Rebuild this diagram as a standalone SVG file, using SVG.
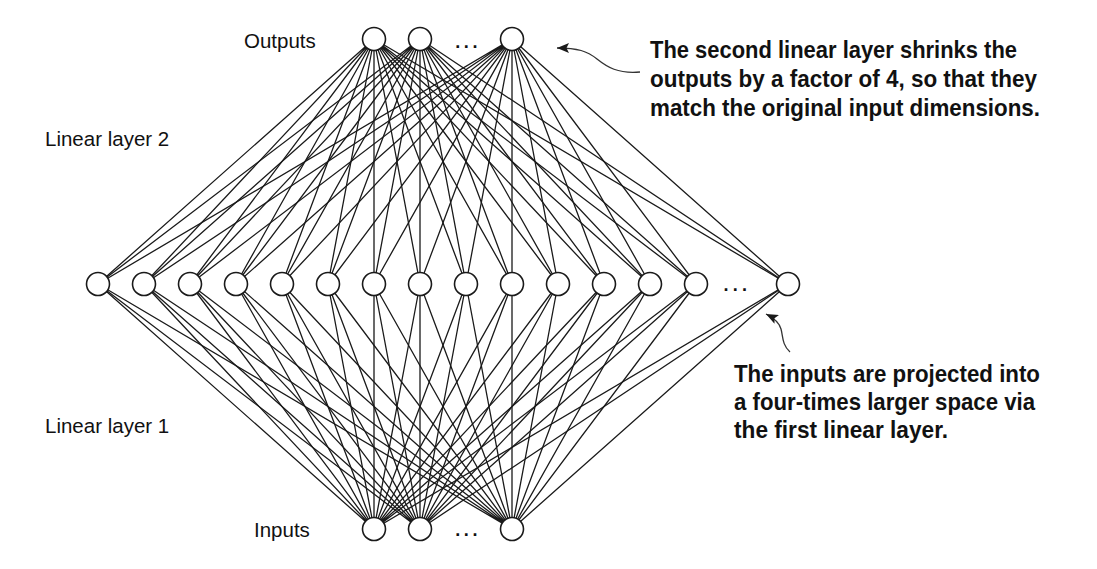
<svg xmlns="http://www.w3.org/2000/svg" width="1097" height="569" viewBox="0 0 1097 569">
<style>
.lbl{font-family:"Liberation Sans",Arial,sans-serif;font-size:20.5px;fill:#111}
.note{font-family:"Liberation Sans",Arial,sans-serif;font-size:24px;font-weight:bold;fill:#111}
.dots{font-family:"Liberation Sans",Arial,sans-serif;font-size:18px;font-weight:bold;fill:#111;letter-spacing:3.6px}
.conn{fill:none;stroke:#1a1a1a;stroke-width:1.3}
.node circle{fill:#fff;stroke:#1a1a1a;stroke-width:1.6}
.arrow{fill:none;stroke:#333;stroke-width:1.3}
</style>
<defs>
<marker id="ah" viewBox="0 0 12 10" refX="12" refY="5" markerWidth="12" markerHeight="10" markerUnits="userSpaceOnUse" orient="auto">
<path d="M0,0 L12,5 L0,10 L2.5,5 Z" fill="#1a1a1a"/>
</marker>
</defs>
<rect width="1097" height="569" fill="#fff"/>
<g id="connectors">
<path class="conn" d="M374 39L98 284M374 39L144 284M374 39L190 284M374 39L236 284M374 39L282 284M374 39L328 284M374 39L374 284M374 39L420 284M374 39L466 284M374 39L512 284M374 39L558 284M374 39L604 284M374 39L650 284M374 39L696 284M374 39L788 284"/>
<path class="conn" d="M420 39L98 284M420 39L144 284M420 39L190 284M420 39L236 284M420 39L282 284M420 39L328 284M420 39L374 284M420 39L420 284M420 39L466 284M420 39L512 284M420 39L558 284M420 39L604 284M420 39L650 284M420 39L696 284M420 39L788 284"/>
<path class="conn" d="M512 39L98 284M512 39L144 284M512 39L190 284M512 39L236 284M512 39L282 284M512 39L328 284M512 39L374 284M512 39L420 284M512 39L466 284M512 39L512 284M512 39L558 284M512 39L604 284M512 39L650 284M512 39L696 284M512 39L788 284"/>
<path class="conn" d="M374 529L98 284M374 529L144 284M374 529L190 284M374 529L236 284M374 529L282 284M374 529L328 284M374 529L374 284M374 529L420 284M374 529L466 284M374 529L512 284M374 529L558 284M374 529L604 284M374 529L650 284M374 529L696 284M374 529L788 284"/>
<path class="conn" d="M420 529L98 284M420 529L144 284M420 529L190 284M420 529L236 284M420 529L282 284M420 529L328 284M420 529L374 284M420 529L420 284M420 529L466 284M420 529L512 284M420 529L558 284M420 529L604 284M420 529L650 284M420 529L696 284M420 529L788 284"/>
<path class="conn" d="M512 529L98 284M512 529L144 284M512 529L190 284M512 529L236 284M512 529L282 284M512 529L328 284M512 529L374 284M512 529L420 284M512 529L466 284M512 529L512 284M512 529L558 284M512 529L604 284M512 529L650 284M512 529L696 284M512 529L788 284"/>
</g>
<g id="outputs" class="node">
<circle cx="374" cy="39" r="11.5"/><circle cx="420" cy="39" r="11.5"/><circle cx="512" cy="39" r="11.5"/>
<text class="dots" x="455.2" y="47.5">...</text>
</g>
<g id="hidden" class="node">
<circle cx="98" cy="284" r="11.5"/><circle cx="144" cy="284" r="11.5"/><circle cx="190" cy="284" r="11.5"/><circle cx="236" cy="284" r="11.5"/><circle cx="282" cy="284" r="11.5"/><circle cx="328" cy="284" r="11.5"/><circle cx="374" cy="284" r="11.5"/><circle cx="420" cy="284" r="11.5"/><circle cx="466" cy="284" r="11.5"/><circle cx="512" cy="284" r="11.5"/><circle cx="558" cy="284" r="11.5"/><circle cx="604" cy="284" r="11.5"/><circle cx="650" cy="284" r="11.5"/><circle cx="696" cy="284" r="11.5"/><circle cx="788" cy="284" r="11.5"/>
<text class="dots" x="723.5" y="291" style="letter-spacing:4.3px">...</text>
</g>
<g id="inputs" class="node">
<circle cx="374" cy="529" r="11.5"/><circle cx="420" cy="529" r="11.5"/><circle cx="512" cy="529" r="11.5"/>
<text class="dots" x="455.2" y="535.5">...</text>
</g>
<g id="labels">
<text class="lbl" x="244" y="47.5">Outputs</text>
<text class="lbl" x="45" y="146">Linear layer 2</text>
<text class="lbl" x="45" y="432.5">Linear layer 1</text>
<text class="lbl" x="254" y="536.5">Inputs</text>
</g>
<g id="note-top">
<path class="arrow" d="M640 72C618 74 607 67 597 59C587 51 578 48 557 48" marker-end="url(#ah)"/>
<text class="note" x="650" y="58" textLength="367" lengthAdjust="spacingAndGlyphs">The second linear layer shrinks the</text>
<text class="note" x="650" y="87" textLength="387" lengthAdjust="spacingAndGlyphs">outputs by a factor of 4, so that they</text>
<text class="note" x="650" y="115.5" textLength="390" lengthAdjust="spacingAndGlyphs">match the original input dimensions.</text>
</g>
<g id="note-bottom">
<path class="arrow" d="M790 352C782 345 783 336 781 329C779 322 774 318 766 314" marker-end="url(#ah)"/>
<text class="note" x="734" y="381.5" textLength="306" lengthAdjust="spacingAndGlyphs">The inputs are projected into</text>
<text class="note" x="734" y="410" textLength="301" lengthAdjust="spacingAndGlyphs">a four-times larger space via</text>
<text class="note" x="734" y="437.5" textLength="214" lengthAdjust="spacingAndGlyphs">the first linear layer.</text>
</g>
</svg>
